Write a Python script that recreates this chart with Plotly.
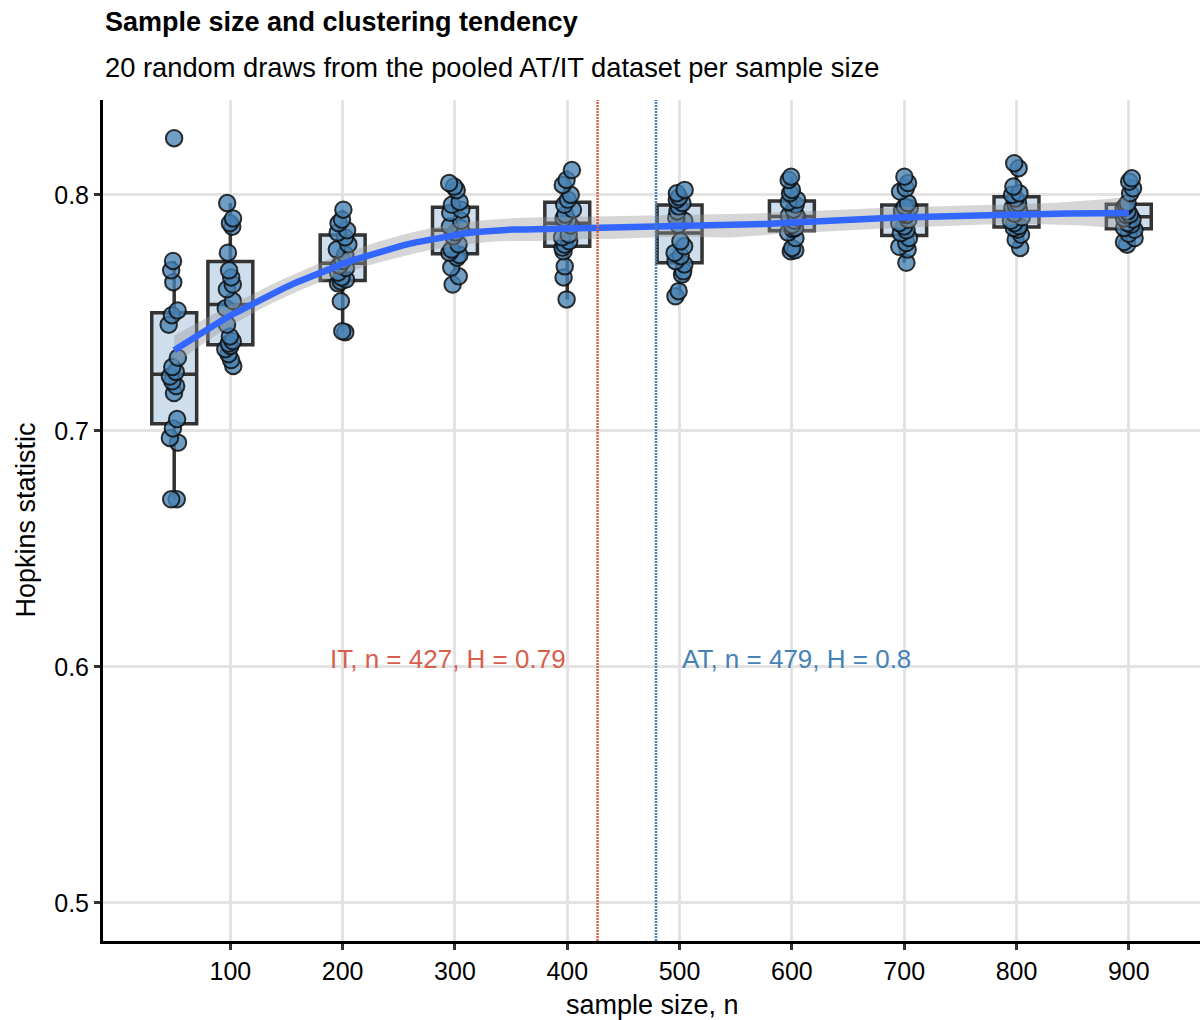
import numpy as np
import plotly.graph_objects as go

# Hopkins statistic for 20 random draws at each sample size
sample_sizes = [50, 100, 200, 300, 400, 500, 600, 700, 800, 900]

h_50 = [0.671, 0.671, 0.695, 0.697, 0.701, 0.705, 0.716, 0.719, 0.721, 0.723,
        0.725, 0.727, 0.731, 0.745, 0.749, 0.751, 0.763, 0.768, 0.772, 0.824]
h_100 = [0.7275, 0.730, 0.7325, 0.7346, 0.736, 0.737, 0.738, 0.740, 0.745, 0.752,
         0.755, 0.760, 0.762, 0.765, 0.768, 0.7755, 0.7865, 0.788, 0.790, 0.7965]
h_200 = [0.7418, 0.7422, 0.7549, 0.7625, 0.7633, 0.7641, 0.765, 0.767, 0.769, 0.770,
         0.772, 0.7747, 0.7768, 0.779, 0.782, 0.784, 0.785, 0.788, 0.7895, 0.7937]
h_300 = [0.762, 0.7655, 0.7692, 0.7734, 0.7745, 0.7755, 0.7768, 0.779, 0.7824, 0.784,
         0.786, 0.7866, 0.789, 0.7924, 0.7937, 0.7958, 0.797, 0.802, 0.8035, 0.805]
h_400 = [0.7557, 0.765, 0.7697, 0.7761, 0.7776, 0.7789, 0.7803, 0.782, 0.7831, 0.787,
         0.789, 0.790, 0.7916, 0.7937, 0.7958, 0.7979, 0.800, 0.8042, 0.8063, 0.8105]
h_500 = [0.757, 0.7592, 0.7662, 0.7676, 0.7705, 0.7719, 0.774, 0.7754, 0.7782, 0.7803,
         0.7873, 0.789, 0.7903, 0.793, 0.795, 0.7965, 0.7979, 0.799, 0.8007, 0.8021]
h_600 = [0.7761, 0.7765, 0.7775, 0.7817, 0.784, 0.7855, 0.786, 0.7873, 0.789, 0.7905,
         0.7912, 0.7916, 0.7937, 0.7958, 0.797, 0.7979, 0.8007, 0.8021, 0.8063, 0.8077]
h_700 = [0.7712, 0.7768, 0.778, 0.7796, 0.7817, 0.7838, 0.785, 0.7866, 0.788, 0.7895,
         0.7915, 0.7923, 0.793, 0.7944, 0.795, 0.7965, 0.8014, 0.8028, 0.805, 0.8077]
h_800 = [0.7775, 0.781, 0.7831, 0.7852, 0.786, 0.7868, 0.788, 0.789, 0.7905, 0.792,
         0.794, 0.7944, 0.7955, 0.7965, 0.7985, 0.800, 0.8007, 0.8035, 0.8113, 0.8134]
h_900 = [0.7789, 0.780, 0.7817, 0.7835, 0.7852, 0.786, 0.7873, 0.788, 0.7895, 0.790,
         0.7915, 0.7916, 0.793, 0.7944, 0.7955, 0.7965, 0.8007, 0.8028, 0.8056, 0.807]

hopkins = [h_50, h_100, h_200, h_300, h_400, h_500, h_600, h_700, h_800, h_900]

# Full datasets
it_n, it_h = 427, 0.79
at_n, at_h = 479, 0.80

x_ticks = [100, 200, 300, 400, 500, 600, 700, 800, 900]
y_ticks = [0.5, 0.6, 0.7, 0.8]

x_all = np.repeat(sample_sizes, [len(v) for v in hopkins]).astype(float)
y_all = np.concatenate([np.asarray(v, float) for v in hopkins])


# ---- local quadratic regression (loess, span 0.75, tricube weights) ----
def loess_operator(x, x0s, span=0.75, degree=2):
    n = len(x)
    q = int(np.floor(n * span))
    rows = []
    for x0 in x0s:
        d = np.abs(x - x0)
        h = np.sort(d)[q - 1] * 1.0000001
        u = d / h
        w = np.where(u < 1, (1 - u ** 3) ** 3, 0.0)
        X = np.vander(x - x0, degree + 1, increasing=True)
        XtW = X.T * w
        rows.append(np.linalg.solve(XtW @ X, XtW)[0])
    return np.array(rows)


x_grid = np.linspace(min(sample_sizes), max(sample_sizes), 80)
L_grid = loess_operator(x_all, x_grid)
L_fit = loess_operator(x_all, x_all)
fit = L_grid @ y_all
resid = y_all - L_fit @ y_all
M = np.eye(len(x_all)) - L_fit
MtM = M.T @ M
delta1 = np.trace(MtM)
delta2 = np.trace(MtM @ MtM)
sigma = np.sqrt(np.sum(resid ** 2) / delta1)
df = delta1 ** 2 / delta2
z = 1.959964
t_q = z + (z ** 3 + z) / (4 * df) + (5 * z ** 5 + 16 * z ** 3 + 3 * z) / (96 * df ** 2)
se = sigma * np.sqrt(np.sum(L_grid ** 2, axis=1))
upper = fit + t_q * se
lower = fit - t_q * se

FONT = "Liberation Sans, Arial, sans-serif"
RED = "#D6604D"
BLUE = "#4682B4"

fig = go.Figure()

fig.add_trace(go.Box(
    x=x_all, y=y_all,
    width=40,
    boxpoints="all", jitter=0.3, pointpos=0,
    quartilemethod="linear",
    whiskerwidth=0,
    fillcolor="#cfdeec",
    line=dict(color="#333333", width=3.5),
    marker=dict(color="rgba(70,130,180,0.78)", size=16.5,
                line=dict(color="rgba(15,15,15,0.85)", width=2)),
    showlegend=False, hoverinfo="y",
))

# confidence band and smooth curve
fig.add_trace(go.Scatter(
    x=np.concatenate([x_grid, x_grid[::-1]]),
    y=np.concatenate([upper, lower[::-1]]),
    fill="toself", fillcolor="rgba(153,153,153,0.4)",
    line=dict(width=0), mode="lines", showlegend=False, hoverinfo="skip",
))
fig.add_trace(go.Scatter(
    x=x_grid, y=fit, mode="lines",
    line=dict(color="#3366FF", width=6.5), showlegend=False,
))

# full-dataset reference lines
for n_val, col in [(it_n, RED), (at_n, BLUE)]:
    fig.add_shape(type="line", xref="x", yref="paper", x0=n_val, x1=n_val,
                  y0=0, y1=1, layer="above",
                  line=dict(color=col, width=2.5, dash="2px,1px"))

fig.add_annotation(x=it_n, y=0.6, xref="x", yref="y", xanchor="right",
                   xshift=-30, yshift=8,
                   text=f"IT, n = {it_n}, H = {it_h:g}", showarrow=False,
                   font=dict(family=FONT, size=26, color=RED))
fig.add_annotation(x=at_n, y=0.6, xref="x", yref="y", xanchor="left",
                   xshift=24, yshift=8,
                   text=f"AT, n = {at_n}, H = {at_h:g}", showarrow=False,
                   font=dict(family=FONT, size=26, color=BLUE))

# titles
fig.add_annotation(x=0, y=1.0927, xref="paper", yref="paper", xanchor="left",
                   yanchor="middle", showarrow=False,
                   text="<b>Sample size and clustering tendency</b>",
                   font=dict(family=FONT, size=27, color="black"))
fig.add_annotation(x=0, y=1.0392, xref="paper", yref="paper", xanchor="left",
                   yanchor="middle", showarrow=False,
                   text="20 random draws from the pooled AT/IT dataset per sample size",
                   font=dict(family=FONT, size=27.3, color="black"))
fig.add_annotation(x=-0.0711, y=0.5, xref="paper", yref="paper", textangle=-90,
                   xanchor="center", yanchor="middle", showarrow=False,
                   text="Hopkins statistic",
                   font=dict(family=FONT, size=27, color="black"))
fig.add_annotation(x=0.501, y=-0.076, xref="paper", yref="paper",
                   xanchor="center", yanchor="middle", showarrow=False,
                   text="sample size, n",
                   font=dict(family=FONT, size=27, color="black"))

axis_common = dict(
    showgrid=True, gridcolor="#e3e3e3", gridwidth=3,
    zeroline=False,
    showline=True, linecolor="black", linewidth=3,
    ticks="outside", ticklen=6, tickwidth=3, tickcolor="#333333",
    tickfont=dict(family=FONT, size=25, color="black"),
)

fig.update_layout(
    width=1202, height=1020,
    margin=dict(l=103, r=2, t=100, b=79),
    paper_bgcolor="white", plot_bgcolor="white",
    font=dict(family=FONT, color="black"),
    xaxis=dict(range=[-13.4, 963.4], tickvals=x_ticks, **axis_common),
    yaxis=dict(range=[0.4838, 0.8402], tickvals=y_ticks, tickformat=".1f",
               **axis_common),
    showlegend=False,
)

fig.write_html("out.html")
